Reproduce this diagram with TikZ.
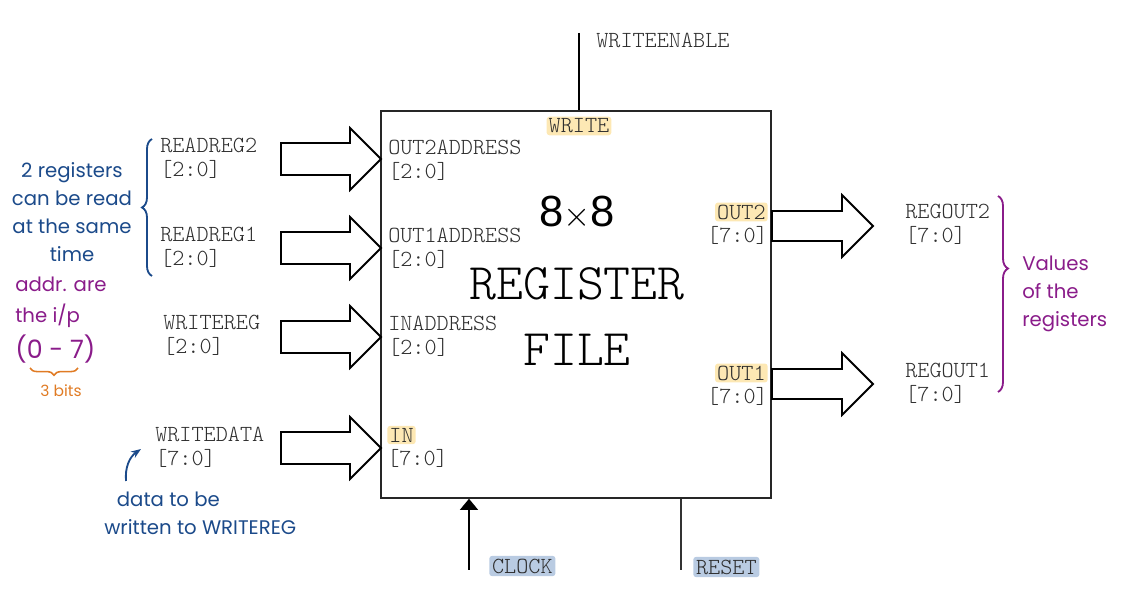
\documentclass[tikz,border=0pt]{standalone}
\usepackage{fontspec}
\setsansfont{Liberation Sans}
\setmonofont{Latin Modern Mono Light}
\newfontfamily\handfont{Poppins}
\usetikzlibrary{positioning, arrows.meta, decorations.pathreplacing}

\definecolor{hlyellow}{HTML}{FDE8B4}
\definecolor{hlblue}{HTML}{B9CBE2}
\definecolor{noteblue}{HTML}{1B4A8A}
\definecolor{notepurple}{HTML}{8A1C8A}
\definecolor{noteorange}{HTML}{E07B24}
\definecolor{labelgray}{HTML}{2E2E2E}

\begin{document}
\begin{tikzpicture}[x=0.025cm, y=-0.025cm, node distance=3pt and 0pt,
		sig/.style={font=\ttfamily\fontsize{16.4}{17.1}\selectfont, text=labelgray, align=left, inner sep=0pt},
		pinY/.style={sig, fill=hlyellow, rounded corners=2pt, inner sep=1.5pt},
		pinB/.style={sig, fill=hlblue, rounded corners=2pt, inner sep=2pt},
		big/.style={font=\ttfamily\fontsize{36.5}{36.5}\selectfont, text=black, inner sep=0pt},
		blockarrow/.style={draw=black, fill=white, line width=1.3pt, line join=miter},
		note/.style={font=\handfont\fontsize{14}{19.9}\selectfont, inner sep=0pt},
		notebrace/.style={line width=1.3pt, decorate, decoration={brace, amplitude=0.25cm}}]
		\useasboundingbox (0,0) rectangle (1127,615);

		% register file block
		\node[draw=black!85, line width=1pt, minimum width=9.75cm, minimum height=9.675cm, inner sep=0pt] (rf) at (576,304.5) {};
		\node[font=\sffamily\fontsize{31}{31}\selectfont, inner sep=0pt] (size) at (577,213) {8$\times$8};
		\node[big] (reg) at (577,284) {REGISTER};
		\node[big] (file) at (577,350) {FILE};

		% ports inside
		\node[sig, anchor=west] (out2a) at (388,160) {OUT2ADDRESS\\{[2:0]}};
		\node[sig, anchor=west] (out1a) at (388,248) {OUT1ADDRESS\\{[2:0]}};
		\node[sig, anchor=west] (ina) at (388,336) {INADDRESS\\{[2:0]}};
		\node[pinY, anchor=west] (inpin) at (387,435) {IN};
		\node[sig, below=3pt of inpin.south west, anchor=north west] (inw) {[7:0]};
		\node[pinY] (wrpin) at (579,126) {WRITE};
		\node[pinY, anchor=east] (out2pin) at (768,212) {OUT2};
		\node[sig, below=3pt of out2pin.south east, anchor=north east] (out2w) {[7:0]};
		\node[pinY, anchor=east] (out1pin) at (768,373) {OUT1};
		\node[sig, below=3pt of out1pin.south east, anchor=north east] (out1w) {[7:0]};

		% signals outside
		\node[sig, anchor=west] (rd2) at (160,158) {READREG2\\{[2:0]}};
		\node[sig, anchor=west] (rd1) at (160,247) {READREG1\\{[2:0]}};
		\node[sig, anchor=west] (wreg) at (163,335) {WRITEREG\\{[2:0]}};
		\node[sig, anchor=west] (wdata) at (155,447) {WRITEDATA\\{[7:0]}};
		\node[sig, anchor=west] (rout2) at (905,224) {REGOUT2\\{[7:0]}};
		\node[sig, anchor=west] (rout1) at (905,383) {REGOUT1\\{[7:0]}};

		% block arrows
		\foreach \y in {159,248,337,448}
			\draw[blockarrow] (281,{\y-16}) -- (350,{\y-16}) -- (350,{\y-31}) -- (381,\y) -- (350,{\y+31}) -- (350,{\y+16}) -- (281,{\y+16}) -- cycle;
		\foreach \y in {226,384}
			\draw[blockarrow] (772,{\y-15}) -- (842,{\y-15}) -- (842,{\y-31}) -- (873,\y) -- (842,{\y+31}) -- (842,{\y+15}) -- (772,{\y+15}) -- cycle;

		% control lines
		\coordinate (we) at (579,33);
		\coordinate (clk) at (469,570);
		\coordinate (rst) at (681,570);
		\draw[line width=0.9pt] (we) -- (we |- rf.north);
		\node[sig, anchor=west] (welabel) at (596,40) {WRITEENABLE};
		\draw[line width=1.3pt, -{Triangle[length=0.28cm, width=0.45cm]}] (clk) -- (clk |- rf.south);
		\node[pinB, anchor=west] (clklabel) at (489,566) {CLOCK};
		\draw[line width=0.9pt, black!80] (rst) -- (rst |- rf.south);
		\node[pinB, anchor=west] (rstlabel) at (693,567) {RESET};

		% notes
		\draw[noteblue, notebrace] (152,276) -- (152,139);
		\node[note, noteblue, align=center] (readnote) at (72,212) {2 registers\\can be read\\at the same\\time};
		\node[note, notepurple, align=left, anchor=west] (addrnote) at (15,320) {addr. are\\[2pt]the i/p\\[4pt]{\fontsize{18}{20}\selectfont(0 - 7)}};
		\draw[noteorange, line width=1.1pt, decorate, decoration={brace, amplitude=0.18cm}] (78,368) -- (30,368);
		\node[note, noteorange, font=\handfont\fontsize{11}{12}\selectfont] (bitsnote) at (61,391) {3 bits};
		\coordinate (dstart) at (126,481);
		\coordinate (dtip) at (141,449);
		\draw[noteblue, line width=1.3pt, -{Stealth[length=0.25cm]}] (dstart) to[bend left=30] (dtip);
		\node[note, noteblue, align=left, anchor=west] (datanote) at (104,513) {\hspace{9pt}data to be\\written to WRITEREG};
		\draw[notepurple, notebrace, decoration={aspect=0.37}] (998,196) -- (998,392);
		\node[note, notepurple, align=left, anchor=west] (valnote) at (1022,294) {Values\\of the\\registers};
\end{tikzpicture}
\end{document}
